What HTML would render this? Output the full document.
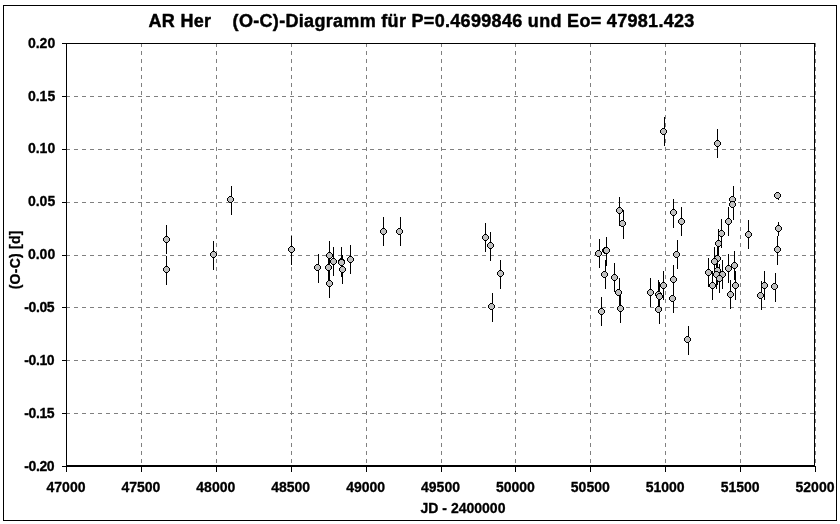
<!DOCTYPE html>
<html><head><meta charset="utf-8"><title>AR Her (O-C)</title>
<style>html,body{margin:0;padding:0;background:#fff}svg{display:block}text{font-family:"Liberation Sans",sans-serif;font-weight:bold;fill:#000;stroke:#000;stroke-width:0.3px;stroke-linejoin:round}</style>
</head><body>
<svg width="840" height="524" viewBox="0 0 840 524" style="will-change:transform">
<rect x="0" y="0" width="840" height="524" fill="#fff"/>
<rect x="3.5" y="5.5" width="833" height="515" fill="none" stroke="#000" stroke-width="1" shape-rendering="crispEdges"/>
<g stroke="#808080" stroke-width="1" stroke-dasharray="4 4" shape-rendering="crispEdges" fill="none">
<line x1="141.5" y1="43" x2="141.5" y2="465"/>
<line x1="216.5" y1="43" x2="216.5" y2="465"/>
<line x1="291.5" y1="43" x2="291.5" y2="465"/>
<line x1="366.5" y1="43" x2="366.5" y2="465"/>
<line x1="441.5" y1="43" x2="441.5" y2="465"/>
<line x1="515.5" y1="43" x2="515.5" y2="465"/>
<line x1="590.5" y1="43" x2="590.5" y2="465"/>
<line x1="665.5" y1="43" x2="665.5" y2="465"/>
<line x1="740.5" y1="43" x2="740.5" y2="465"/>
<line x1="815.5" y1="43" x2="815.5" y2="465"/>
<line x1="66" y1="96.5" x2="816" y2="96.5"/>
<line x1="66" y1="149.5" x2="816" y2="149.5"/>
<line x1="66" y1="202.5" x2="816" y2="202.5"/>
<line x1="66" y1="255.5" x2="816" y2="255.5"/>
<line x1="66" y1="307.5" x2="816" y2="307.5"/>
<line x1="66" y1="360.5" x2="816" y2="360.5"/>
<line x1="66" y1="413.5" x2="816" y2="413.5"/>
</g>
<g stroke="#000" shape-rendering="crispEdges" fill="none">
<line x1="66" y1="43.5" x2="815" y2="43.5" stroke-width="1"/>
<line x1="814.5" y1="43" x2="814.5" y2="466" stroke-width="1"/>
<line x1="66.5" y1="43" x2="66.5" y2="472" stroke-width="1"/>
<line x1="66" y1="466" x2="815" y2="466" stroke-width="2"/>
<line x1="141.5" y1="466" x2="141.5" y2="472" stroke-width="1"/>
<line x1="216.5" y1="466" x2="216.5" y2="472" stroke-width="1"/>
<line x1="291.5" y1="466" x2="291.5" y2="472" stroke-width="1"/>
<line x1="366.5" y1="466" x2="366.5" y2="472" stroke-width="1"/>
<line x1="441.5" y1="466" x2="441.5" y2="472" stroke-width="1"/>
<line x1="515.5" y1="466" x2="515.5" y2="472" stroke-width="1"/>
<line x1="590.5" y1="466" x2="590.5" y2="472" stroke-width="1"/>
<line x1="665.5" y1="466" x2="665.5" y2="472" stroke-width="1"/>
<line x1="740.5" y1="466" x2="740.5" y2="472" stroke-width="1"/>
<line x1="815.5" y1="466" x2="815.5" y2="472" stroke-width="1"/>
<line x1="62" y1="43.5" x2="66" y2="43.5" stroke-width="1"/>
<line x1="62" y1="96.5" x2="66" y2="96.5" stroke-width="1"/>
<line x1="62" y1="149.5" x2="66" y2="149.5" stroke-width="1"/>
<line x1="62" y1="202.5" x2="66" y2="202.5" stroke-width="1"/>
<line x1="62" y1="255.5" x2="66" y2="255.5" stroke-width="1"/>
<line x1="62" y1="307.5" x2="66" y2="307.5" stroke-width="1"/>
<line x1="62" y1="360.5" x2="66" y2="360.5" stroke-width="1"/>
<line x1="62" y1="413.5" x2="66" y2="413.5" stroke-width="1"/>
<line x1="62" y1="466.5" x2="66" y2="466.5" stroke-width="1"/>
</g>
<g stroke="#000" stroke-width="1" shape-rendering="crispEdges">
<line x1="166.5" y1="225" x2="166.5" y2="254"/>
<line x1="166.5" y1="256" x2="166.5" y2="285"/>
<line x1="213.5" y1="241" x2="213.5" y2="270"/>
<line x1="231.5" y1="186" x2="231.5" y2="215"/>
<line x1="291.5" y1="236" x2="291.5" y2="265"/>
<line x1="318.5" y1="254" x2="318.5" y2="283"/>
<line x1="329.5" y1="241" x2="329.5" y2="270"/>
<line x1="328.5" y1="253" x2="328.5" y2="282"/>
<line x1="329.5" y1="269" x2="329.5" y2="298"/>
<line x1="333.5" y1="247" x2="333.5" y2="276"/>
<line x1="341.5" y1="247" x2="341.5" y2="276"/>
<line x1="341.5" y1="248" x2="341.5" y2="277"/>
<line x1="342.5" y1="255" x2="342.5" y2="284"/>
<line x1="350.5" y1="245" x2="350.5" y2="274"/>
<line x1="383.5" y1="217" x2="383.5" y2="246"/>
<line x1="400.5" y1="217" x2="400.5" y2="246"/>
<line x1="485.5" y1="223" x2="485.5" y2="252"/>
<line x1="490.5" y1="232" x2="490.5" y2="261"/>
<line x1="500.5" y1="260" x2="500.5" y2="289"/>
<line x1="492.5" y1="293" x2="492.5" y2="322"/>
<line x1="599.5" y1="239" x2="599.5" y2="268"/>
<line x1="606.5" y1="237" x2="606.5" y2="266"/>
<line x1="606.5" y1="237" x2="606.5" y2="266"/>
<line x1="605.5" y1="260" x2="605.5" y2="289"/>
<line x1="614.5" y1="263" x2="614.5" y2="292"/>
<line x1="619.5" y1="278" x2="619.5" y2="307"/>
<line x1="620.5" y1="294" x2="620.5" y2="323"/>
<line x1="601.5" y1="297" x2="601.5" y2="326"/>
<line x1="619.5" y1="197" x2="619.5" y2="226"/>
<line x1="623.5" y1="210" x2="623.5" y2="239"/>
<line x1="650.5" y1="278" x2="650.5" y2="307"/>
<line x1="658.5" y1="280" x2="658.5" y2="309"/>
<line x1="659.5" y1="282" x2="659.5" y2="311"/>
<line x1="659.5" y1="295" x2="659.5" y2="324"/>
<line x1="663.5" y1="271" x2="663.5" y2="300"/>
<line x1="673.5" y1="265" x2="673.5" y2="294"/>
<line x1="673.5" y1="284" x2="673.5" y2="313"/>
<line x1="677.5" y1="240" x2="677.5" y2="269"/>
<line x1="688.5" y1="326" x2="688.5" y2="355"/>
<line x1="664.5" y1="117" x2="664.5" y2="146"/>
<line x1="673.5" y1="199" x2="673.5" y2="228"/>
<line x1="681.5" y1="207" x2="681.5" y2="236"/>
<line x1="717.5" y1="129" x2="717.5" y2="158"/>
<line x1="733.5" y1="186" x2="733.5" y2="215"/>
<line x1="733.5" y1="191" x2="733.5" y2="220"/>
<line x1="728.5" y1="207" x2="728.5" y2="236"/>
<line x1="721.5" y1="219" x2="721.5" y2="248"/>
<line x1="748.5" y1="220" x2="748.5" y2="249"/>
<line x1="718.5" y1="229" x2="718.5" y2="258"/>
<line x1="717.5" y1="244" x2="717.5" y2="273"/>
<line x1="714.5" y1="247" x2="714.5" y2="276"/>
<line x1="708.5" y1="258" x2="708.5" y2="287"/>
<line x1="717.5" y1="256" x2="717.5" y2="285"/>
<line x1="716.5" y1="260" x2="716.5" y2="289"/>
<line x1="722.5" y1="260" x2="722.5" y2="289"/>
<line x1="719.5" y1="264" x2="719.5" y2="293"/>
<line x1="712.5" y1="271" x2="712.5" y2="300"/>
<line x1="728.5" y1="254" x2="728.5" y2="283"/>
<line x1="734.5" y1="251" x2="734.5" y2="280"/>
<line x1="735.5" y1="271" x2="735.5" y2="300"/>
<line x1="730.5" y1="280" x2="730.5" y2="309"/>
<line x1="761.5" y1="281" x2="761.5" y2="310"/>
<line x1="764.5" y1="271" x2="764.5" y2="300"/>
<line x1="775.5" y1="273" x2="775.5" y2="302"/>
<line x1="777.5" y1="236" x2="777.5" y2="265"/>
<line x1="778.5" y1="222" x2="778.5" y2="236"/>
<line x1="778.5" y1="192" x2="778.5" y2="200"/>
</g>
<defs><g id="m" shape-rendering="crispEdges"><path d="M2,0h3v1h1v1h1v3h-1v1h-1v1h-3v-1h-1v-1h-1v-3h1v-1h1z" fill="#000"/><path d="M2,1h3v1h1v3h-1v1h-3v-1h-1v-3h1z" fill="#c0c0c0"/></g></defs>
<g>
<use href="#m" x="163" y="236"/>
<use href="#m" x="163" y="266"/>
<use href="#m" x="210" y="251"/>
<use href="#m" x="227" y="196"/>
<use href="#m" x="288" y="246"/>
<use href="#m" x="314" y="264"/>
<use href="#m" x="326" y="252"/>
<use href="#m" x="325" y="264"/>
<use href="#m" x="326" y="280"/>
<use href="#m" x="330" y="258"/>
<use href="#m" x="338" y="258"/>
<use href="#m" x="338" y="259"/>
<use href="#m" x="339" y="266"/>
<use href="#m" x="347" y="256"/>
<use href="#m" x="380" y="228"/>
<use href="#m" x="396" y="228"/>
<use href="#m" x="482" y="234"/>
<use href="#m" x="487" y="242"/>
<use href="#m" x="497" y="270"/>
<use href="#m" x="488" y="303"/>
<use href="#m" x="595" y="250"/>
<use href="#m" x="602" y="247"/>
<use href="#m" x="603" y="247"/>
<use href="#m" x="601" y="271"/>
<use href="#m" x="611" y="274"/>
<use href="#m" x="615" y="289"/>
<use href="#m" x="617" y="305"/>
<use href="#m" x="598" y="308"/>
<use href="#m" x="616" y="207"/>
<use href="#m" x="619" y="220"/>
<use href="#m" x="647" y="289"/>
<use href="#m" x="655" y="291"/>
<use href="#m" x="656" y="293"/>
<use href="#m" x="655" y="306"/>
<use href="#m" x="660" y="282"/>
<use href="#m" x="670" y="276"/>
<use href="#m" x="669" y="295"/>
<use href="#m" x="673" y="251"/>
<use href="#m" x="684" y="336"/>
<use href="#m" x="660" y="128"/>
<use href="#m" x="670" y="209"/>
<use href="#m" x="678" y="218"/>
<use href="#m" x="714" y="140"/>
<use href="#m" x="729" y="196"/>
<use href="#m" x="729" y="201"/>
<use href="#m" x="725" y="218"/>
<use href="#m" x="718" y="230"/>
<use href="#m" x="745" y="231"/>
<use href="#m" x="715" y="240"/>
<use href="#m" x="714" y="255"/>
<use href="#m" x="711" y="258"/>
<use href="#m" x="705" y="269"/>
<use href="#m" x="714" y="267"/>
<use href="#m" x="713" y="271"/>
<use href="#m" x="719" y="271"/>
<use href="#m" x="716" y="275"/>
<use href="#m" x="709" y="282"/>
<use href="#m" x="725" y="265"/>
<use href="#m" x="731" y="262"/>
<use href="#m" x="732" y="282"/>
<use href="#m" x="727" y="291"/>
<use href="#m" x="757" y="292"/>
<use href="#m" x="761" y="282"/>
<use href="#m" x="771" y="283"/>
<use href="#m" x="774" y="246"/>
<use href="#m" x="775" y="225"/>
<use href="#m" x="774" y="192"/>
</g>
<text x="148.5" y="27.0" font-size="18" letter-spacing="0.31" style="stroke-width:0.45px" xml:space="preserve">AR Her    (O-C)-Diagramm für P=0.4699846 und Eo= 47981.423</text>
<text x="66.0" y="492.2" font-size="14" text-anchor="middle">47000</text>
<text x="140.9" y="492.2" font-size="14" text-anchor="middle">47500</text>
<text x="215.8" y="492.2" font-size="14" text-anchor="middle">48000</text>
<text x="290.7" y="492.2" font-size="14" text-anchor="middle">48500</text>
<text x="365.6" y="492.2" font-size="14" text-anchor="middle">49000</text>
<text x="440.5" y="492.2" font-size="14" text-anchor="middle">49500</text>
<text x="515.4" y="492.2" font-size="14" text-anchor="middle">50000</text>
<text x="590.3" y="492.2" font-size="14" text-anchor="middle">50500</text>
<text x="665.2" y="492.2" font-size="14" text-anchor="middle">51000</text>
<text x="740.1" y="492.2" font-size="14" text-anchor="middle">51500</text>
<text x="815.0" y="492.2" font-size="14" text-anchor="middle">52000</text>
<text x="55.2" y="48.0" font-size="14" text-anchor="end">0.20</text>
<text x="55.2" y="100.9" font-size="14" text-anchor="end">0.15</text>
<text x="55.2" y="152.9" font-size="14" text-anchor="end">0.10</text>
<text x="55.2" y="205.8" font-size="14" text-anchor="end">0.05</text>
<text x="55.2" y="258.7" font-size="14" text-anchor="end">0.00</text>
<text x="54.2" y="312.4" font-size="14" text-anchor="end" letter-spacing="-0.4">-0.05</text>
<text x="54.2" y="365.2" font-size="14" text-anchor="end" letter-spacing="-0.4">-0.10</text>
<text x="54.2" y="418.1" font-size="14" text-anchor="end" letter-spacing="-0.4">-0.15</text>
<text x="54.2" y="471.0" font-size="14" text-anchor="end" letter-spacing="-0.4">-0.20</text>
<text x="463" y="512.5" font-size="14" text-anchor="middle">JD - 2400000</text>
<text transform="translate(20.2,259.8) rotate(-90)" font-size="14" text-anchor="middle" letter-spacing="0.25">(O-C) [d]</text>
</svg></body></html>
